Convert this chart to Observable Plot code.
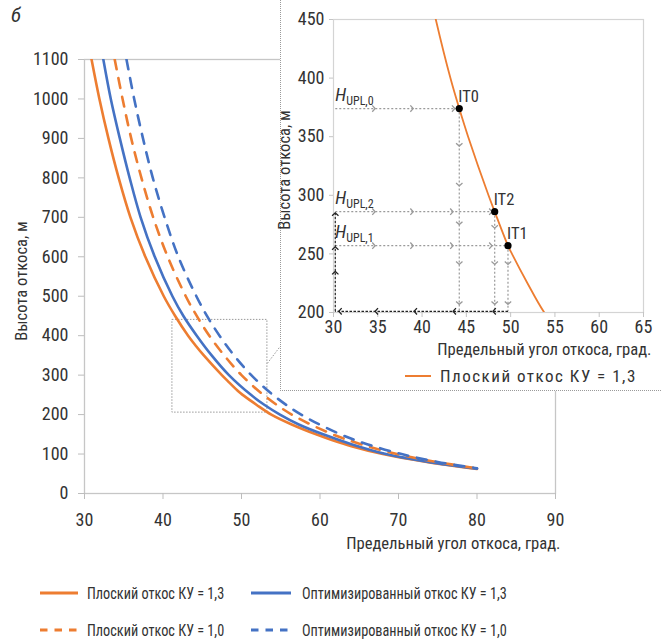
<!DOCTYPE html>
<html><head><meta charset="utf-8">
<script src="https://cdn.jsdelivr.net/npm/d3@7"></script>
<script src="https://cdn.jsdelivr.net/npm/@observablehq/plot@0.6"></script>
<style>
  body { margin: 0; background: #fff; }
  #wrap { position: relative; width: 661px; height: 642px; font-family: "Roboto Condensed", Roboto, sans-serif; color: #333; overflow: hidden; }
  #main { position: absolute; left: 0; top: 0; }
  #inset { position: absolute; left: 280px; top: 0; width: 381px; height: 391px; background: #fff;
           border-left: 1px dotted #9a9a9a; border-bottom: 1px dotted #9a9a9a; box-sizing: border-box; overflow: visible; }
  #letter { position: absolute; left: 11px; top: 5px; font-style: italic; font-size: 21px; line-height: 1; }
  .ytitle { position: absolute; transform: translate(-50%, -50%) rotate(-90deg); font-size: 16.6px; white-space: nowrap; line-height: 1; }
  .leg { position: absolute; height: 24px; display: flex; align-items: center; font-size: 16px; white-space: nowrap; }
  .leg svg { display: block; }
  .leg span { display: inline-block; transform: scaleX(0.89); transform-origin: left center; }
  #insetLegend { position: absolute; left: 124px; top: 364px; height: 24px; display: flex; align-items: center; font-size: 17px; letter-spacing: 1.5px; white-space: nowrap; }
</style>
</head><body>
<div id="wrap">
  <div id="main"></div>
  <div id="inset"></div>
  <div id="letter">б</div>
</div>
<script>
// ---------------- data ----------------
const ORANGE = "#ED7D31", BLUE = "#4472C4";
const seriesNames = [
  "Плоский откос КУ = 1,3",
  "Оптимизированный откос КУ = 1,3",
  "Плоский откос КУ = 1,0",
  "Оптимизированный откос КУ = 1,0"
];
// [angle (deg), height (m)]
const flat13 = [[30.9,1100],[31.9,1000],[33.05,900],[34.35,800],[35.85,700],[37.75,600],[40.1,500],[41.55,450],[43.2,400],[44.2,374],[45.2,350],[47.5,300],[48.2,286],[49.7,257],[50.15,250],[51.9,225],[53.8,200],[56.4,175],[59.5,150],[61.6,135],[64,120],[68,100],[73.6,80],[80,62]];
const opt13  = [[32.4,1100],[33.35,1000],[34.5,900],[35.75,800],[37.15,700],[38.95,600],[41.2,500],[42.6,450],[44.3,400],[46.2,350],[48.4,300],[51.2,250],[52.9,225],[54.9,200],[57.3,175],[60.4,150],[64.0,125],[68.4,100],[73.8,80],[80,63]];
const flat10 = [[33.85,1100],[34.85,1000],[35.95,900],[37.25,800],[38.75,700],[40.6,600],[42.9,500],[44.3,450],[45.9,400],[47.8,350],[50.0,300],[52.8,250],[56.4,200],[61.6,150],[65.2,125],[69.8,100],[74.8,80],[80,64]];
const opt10  = [[35.35,1100],[36.33,1000],[37.45,900],[38.7,800],[40.2,700],[41.95,600],[44.25,500],[45.6,450],[47.2,400],[49.05,350],[51.25,300],[54.0,250],[57.6,200],[62.6,150],[66.0,125],[70.4,100],[75.0,80],[80,64]];

const xTicksMain = [30, 40, 50, 60, 70, 80, 90];
const yTicksMain = [0, 100, 200, 300, 400, 500, 600, 700, 800, 900, 1000, 1100];
const xTicksInset = [30, 35, 40, 45, 50, 55, 60, 65];
const yTicksInset = [200, 250, 300, 350, 400, 450];
const xTitle = "Предельный угол откоса, град.";
const yTitle = "Высота откоса, м";

// zoom window drawn on the main chart and its connector to the inset
const zoomBox = [{x1: 41.2, x2: 53.3, y1: 205, y2: 440}];
const connector = [{x1: 53.3, y1: 330, x2: 54.9, y2: 372}];

// inset points
const itPoints = [
  {label: "IT0", sub: "UPL,0", angle: 44.2, height: 374},
  {label: "IT2", sub: "UPL,2", angle: 48.2, height: 286},
  {label: "IT1", sub: "UPL,1", angle: 49.7, height: 257}
];
const baseAngle = 30.2, baseHeight = 201;
const grayRightHeads = [[34.7,374],[39.0,374],[43.7,374],[34.7,286],[39.0,286],[43.5,286],[47.9,286],[34.7,257],[39.0,257],[43.5,257],[47.9,257]];
const grayDownHeads = [[44.2,342],[44.2,308],[44.2,275],[44.2,241],[44.2,207],[48.2,272],[48.2,241],[48.2,207],[49.7,241],[49.7,207]];
const blackLeftHeads = [[48.0,201],[43.5,201],[39.1,201],[34.7,201],[30.6,201]];
const blackUpHeads = [[30.2,235],[30.2,256],[30.2,285]];

// ---------------- build ----------------
const styles = [
  {data: flat13, color: ORANGE, dash: null},
  {data: opt13, color: BLUE, dash: null},
  {data: flat10, color: ORANGE, dash: "10,9"},
  {data: opt10, color: BLUE, dash: "10,9"}
];
const rows = styles.flatMap((s, i) => s.data.map(([a, h]) => ({series: seriesNames[i], angle: a, height: h})));

const FONT = '"Roboto Condensed", Roboto, sans-serif';
const fmt = d => String(d);

const main = Plot.plot({
  width: 661, height: 560,
  marginLeft: 84, marginRight: 106, marginTop: 59, marginBottom: 67,
  style: {fontFamily: FONT, fontSize: "18px", color: "#333", background: "transparent", overflow: "visible"},
  x: {domain: [30, 90]},
  y: {domain: [0, 1100]},
  marks: [
    Plot.frame({stroke: "#c6c6c6", strokeWidth: 1.3}),
    Plot.axisX({ticks: xTicksMain, tickFormat: fmt, tickSize: 6, tickPadding: 14, stroke: "#bdbdbd", label: null, fontSize: 18}),
    Plot.axisY({ticks: yTicksMain, tickFormat: fmt, tickSize: 6, tickPadding: 10, stroke: "#bdbdbd", label: null, fontSize: 18}),
    Plot.rect(zoomBox, {x1: "x1", x2: "x2", y1: "y1", y2: "y2", fill: "none", stroke: "#999", strokeWidth: 1, strokeDasharray: "1.5,1.5"}),
    Plot.link(connector, {x1: "x1", y1: "y1", x2: "x2", y2: "y2", stroke: "#999", strokeWidth: 1, strokeDasharray: "1.5,1.5"}),
    ...styles.map((s, i) => Plot.line(rows.filter(r => r.series === seriesNames[i]), {
      x: "angle", y: "height", stroke: s.color, strokeWidth: 2.6,
      strokeDasharray: s.dash, curve: "catmull-rom", clip: true
    })),
    Plot.text([xTitle], {text: d => d, frameAnchor: "bottom-right", textAnchor: "end", dx: 5, dy: 55, fontSize: 16.6})
  ]
});
document.getElementById("main").append(main);

const chevron = {
  draw(ctx, size) {
    const r = Math.sqrt(size / Math.PI);
    ctx.moveTo(-r * 0.9, -r);
    ctx.lineTo(0, 0);
    ctx.lineTo(-r * 0.9, r);
  }
};
const heads = (pts, rot, color) => Plot.dot(pts, {x: d => d[0], y: d => d[1], symbol: chevron, r: 3.2, rotate: rot, fill: "none", stroke: color, strokeWidth: 1.3});

const flatRows = rows.filter(r => r.series === seriesNames[0]);
const grayLinks = itPoints.flatMap(p => [
  {x1: baseAngle, y1: p.height, x2: p.angle, y2: p.height},
  {x1: p.angle, y1: p.height, x2: p.angle, y2: baseHeight}
]);
const lowest = d3.max(itPoints, p => p.angle);
const highest = itPoints.find(p => p.label === "IT2").height;
const blackLinks = [
  {x1: lowest, y1: baseHeight, x2: baseAngle, y2: baseHeight},
  {x1: baseAngle, y1: baseHeight, x2: baseAngle, y2: highest}
];

const inset = Plot.plot({
  width: 380, height: 362,
  marginLeft: 52, marginRight: 18, marginTop: 19, marginBottom: 50,
  style: {fontFamily: FONT, fontSize: "18px", color: "#333", background: "transparent", overflow: "visible"},
  x: {domain: [30, 65]},
  y: {domain: [200, 450]},
  marks: [
    Plot.frame({stroke: "#d4d4d4", strokeWidth: 1.2}),
    Plot.axisX({ticks: xTicksInset, tickFormat: fmt, tickSize: 5, tickPadding: 3, stroke: "#c4c4c4", label: null, fontSize: 18}),
    Plot.axisY({ticks: yTicksInset, tickFormat: fmt, tickSize: 4, tickPadding: 5, stroke: "#c4c4c4", label: null, fontSize: 18}),
    Plot.link(grayLinks, {x1: "x1", y1: "y1", x2: "x2", y2: "y2", stroke: "#9a9a9a", strokeWidth: 1.2, strokeDasharray: "2,2"}),
    Plot.link(blackLinks, {x1: "x1", y1: "y1", x2: "x2", y2: "y2", stroke: "#222", strokeWidth: 1.2, strokeDasharray: "2.5,1.5"}),
    heads(grayRightHeads, 0, "#9a9a9a"),
    heads(grayDownHeads, 90, "#9a9a9a"),
    heads(blackLeftHeads, 180, "#222"),
    heads(blackUpHeads, -90, "#222"),
    Plot.line(flatRows, {x: "angle", y: "height", stroke: ORANGE, strokeWidth: 1.8, curve: "catmull-rom", clip: true}),
    Plot.dot(itPoints, {x: "angle", y: "height", r: 3.6, fill: "#000"}),
    Plot.text(itPoints, {x: "angle", y: "height", text: "label", textAnchor: "start", lineAnchor: "bottom", dx: -1, dy: -7, fontSize: 16.5}),
    Plot.text(itPoints, {x: () => baseAngle, y: "height", text: () => "H", textAnchor: "start", lineAnchor: "bottom", dx: 0, dy: -8, fontSize: 18, fontStyle: "italic"}),
    Plot.text(itPoints, {x: () => baseAngle, y: "height", text: "sub", textAnchor: "start", lineAnchor: "bottom", dx: 11, dy: -4, fontSize: 12}),
    Plot.text([xTitle], {text: d => d, frameAnchor: "bottom-right", textAnchor: "end", dx: 8, dy: 42, fontSize: 16.6})
  ]
});
document.getElementById("inset").append(inset);

const wrap = document.getElementById("wrap");

// y-axis titles
[[22, 281], [285, 170]].forEach(([cx, cy]) => {
  const t = document.createElement("div");
  t.className = "ytitle";
  t.style.left = cx + "px";
  t.style.top = cy + "px";
  t.textContent = yTitle;
  wrap.append(t);
});

// inset legend
const il = document.createElement("div");
il.id = "insetLegend";
il.innerHTML = `<svg width="26" height="4"><line x1="0" x2="26" y1="2" y2="2" stroke="${ORANGE}" stroke-width="2"/></svg><span style="margin-left:9px">${seriesNames[0]}</span>`;
document.getElementById("inset").append(il);

// bottom legend
const legendPos = [
  {left: 40, top: 581, sw: 38, gap: 9},   // flat 1.3
  {left: 251, top: 581, sw: 40, gap: 11}, // opt 1.3
  {left: 40, top: 618, sw: 38, gap: 9},   // flat 1.0
  {left: 251, top: 618, sw: 40, gap: 11}  // opt 1.0
];
styles.forEach((s, i) => {
  const p = legendPos[i];
  const d = document.createElement("div");
  d.className = "leg";
  d.style.left = p.left + "px";
  d.style.top = p.top + "px";
  d.innerHTML = `<svg width="${p.sw}" height="4"><line x1="0" x2="${p.sw}" y1="2" y2="2" stroke="${s.color}" stroke-width="3" ${s.dash ? 'stroke-dasharray="7.5,7"' : ""}/></svg><span style="margin-left:${p.gap}px">${seriesNames[i]}</span>`;
  wrap.append(d);
});
</script>
</body></html>
